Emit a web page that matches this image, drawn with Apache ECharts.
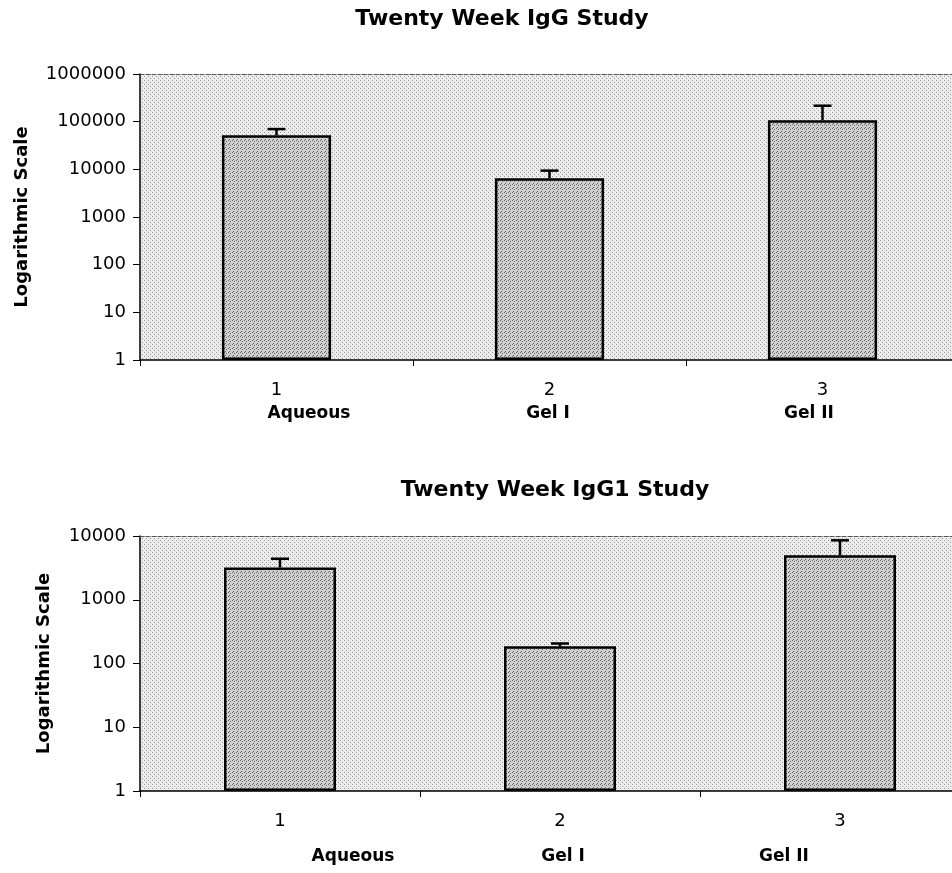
<!DOCTYPE html>
<html><head><meta charset="utf-8">
<script src="https://cdn.jsdelivr.net/npm/echarts@6/dist/echarts.min.js"></script>
<style>html,body{margin:0;padding:0;background:#fff;overflow:hidden;width:952px;height:873px}#c{width:990px;height:873px}</style>
</head><body><div id="c"></div>
<script>
// ---- data ----
const categories = ['1', '2', '3'];
const groupNames = ['Aqueous', 'Gel I', 'Gel II'];
const iggMeans  = [52000, 6500, 107000];
const iggUpper  = [70000, 9400, 216000];
const igg1Means = [3200, 186, 5000];
const igg1Upper = [4400, 206, 8550];
const titles = ['Twenty Week IgG Study', 'Twenty Week IgG1 Study'];
const yName = 'Logarithmic Scale';
const yMin = [1, 1];
const yMax = [1000000, 10000];

// ---- style ----
const FONT = 'DejaVu Sans';

function makePattern(base, dot, dots, size) {
  const cv = document.createElement('canvas');
  cv.width = size; cv.height = size;
  const ctx = cv.getContext('2d');
  ctx.fillStyle = base; ctx.fillRect(0, 0, size, size);
  ctx.fillStyle = dot;
  dots.forEach(d => ctx.fillRect(d[0], d[1], 1, 1));
  return {image: cv, repeat: 'repeat'};
}
const plotBg = makePattern('#ececec', '#9c9c9c', [[0, 0], [2, 2]], 4);
const barFill = makePattern('#d0d0d0', '#666666', [[0, 0], [2, 1], [1, 3]], 4);

const chart = echarts.init(document.getElementById('c'), null, {renderer: 'canvas'});

function errItem(params, api) {
  const base = api.coord([api.value(0), api.value(1)]);
  const top = api.coord([api.value(0), api.value(2)]);
  const st = {stroke: '#000', lineWidth: 2.5};
  return {type: 'group', children: [
    {type: 'line', shape: {x1: base[0], y1: base[1], x2: top[0], y2: top[1]}, style: st},
    {type: 'line', shape: {x1: top[0] - 9, y1: top[1], x2: top[0] + 9, y2: top[1]}, style: st}
  ]};
}

const grids = [
  {left: 140, top: 74, width: 819, height: 286},
  {left: 140, top: 536, width: 840, height: 255}
];
const nameGaps = [109, 87];
const nameX = [[309, 548, 809], [353, 563, 784]];
const nameY = [414, 857];
const titleX = [502, 555];
const titleY = [19, 490];

const xAxes = [], yAxes = [], series = [], graphics = [];
[0, 1].forEach(g => {
  xAxes.push({
    type: 'category', gridIndex: g, data: categories, position: 'bottom',
    axisLine: {show: true, lineStyle: {color: '#000', width: 1.5}},
    axisTick: {show: true, length: 6, lineStyle: {color: '#000', width: 1}},
    axisLabel: {color: '#000', fontFamily: FONT, fontSize: 18, margin: 21},
    splitLine: {show: false}
  });
  xAxes.push({
    type: 'category', gridIndex: g, data: categories, position: 'top',
    axisLine: {show: true, lineStyle: {color: '#555', width: 1, type: 'dashed'}},
    axisTick: {show: false}, axisLabel: {show: false}, splitLine: {show: false}
  });
  yAxes.push({
    type: 'log', logBase: 10, gridIndex: g, min: yMin[g], max: yMax[g], interval: 1,
    name: yName, nameLocation: 'middle', nameGap: nameGaps[g],
    nameTextStyle: {fontFamily: FONT, fontWeight: 'bold', fontSize: 18, color: '#000'},
    axisLine: {show: true, lineStyle: {color: '#000', width: 1.5}},
    axisTick: {show: true, length: 7, lineStyle: {color: '#000', width: 1}},
    axisLabel: {color: '#000', fontFamily: FONT, fontSize: 18, margin: 14,
      formatter: v => String(Math.round(v))},
    splitLine: {show: false}
  });
  const means = g === 0 ? iggMeans : igg1Means;
  const upper = g === 0 ? iggUpper : igg1Upper;
  series.push({
    type: 'bar', xAxisIndex: g * 2, yAxisIndex: g, data: means, barWidth: '40%',
    itemStyle: {color: barFill, borderColor: '#000', borderWidth: 2.5},
    z: 2, animation: false
  });
  series.push({
    type: 'custom', xAxisIndex: g * 2, yAxisIndex: g,
    data: categories.map((c, i) => [i, means[i], upper[i]]),
    renderItem: errItem, z: 3, animation: false
  });
  graphics.push({type: 'text', x: titleX[g], y: titleY[g], style: {
    text: titles[g], fill: '#000', font: 'bold 22px "' + FONT + '"',
    textAlign: 'center', textVerticalAlign: 'middle'}});
  groupNames.forEach((n, i) => graphics.push({type: 'text', x: nameX[g][i], y: nameY[g], style: {
    text: n, fill: '#000', font: 'bold 17px "' + FONT + '"',
    textAlign: 'center', textVerticalAlign: 'middle'}}));
});

chart.setOption({
  animation: false,
  backgroundColor: '#fff',
  grid: grids.map(gr => Object.assign({show: true, backgroundColor: plotBg, borderWidth: 0}, gr)),
  xAxis: xAxes,
  yAxis: yAxes,
  series: series,
  graphic: graphics
});
</script></body></html>
